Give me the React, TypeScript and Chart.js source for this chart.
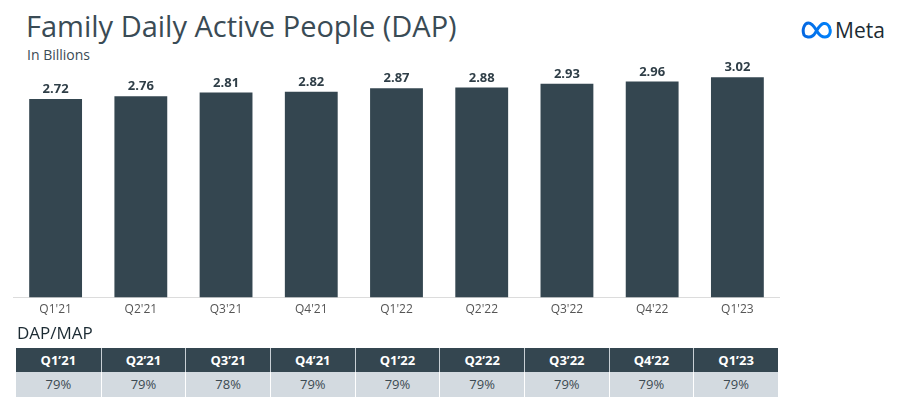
import React, { useEffect, useRef } from "react";
import { Chart, registerables } from "chart.js";

Chart.register(...registerables);

const quarters = ["Q1'21", "Q2'21", "Q3'21", "Q4'21", "Q1'22", "Q2'22", "Q3'22", "Q4'22", "Q1'23"];
const dapValues = [2.72, 2.76, 2.81, 2.82, 2.87, 2.88, 2.93, 2.96, 3.02];
const tableHeaders = ["Q1’21", "Q2’21", "Q3’21", "Q4’21", "Q1’22", "Q2’22", "Q3’22", "Q4’22", "Q1’23"];
const dapMapRatios = ["79%", "79%", "78%", "79%", "79%", "79%", "79%", "79%", "79%"];

const FONT = "'Open Sans', 'Noto Sans', sans-serif";
const BAR = "#344650";

const valueLabels = {
  id: "valueLabels",
  afterDatasetsDraw(chart: any) {
    const ctx = chart.ctx;
    const meta = chart.getDatasetMeta(0);
    ctx.save();
    ctx.font = `bold 13px ${FONT}`;
    ctx.fillStyle = "#2f3e47";
    ctx.textAlign = "center";
    ctx.textBaseline = "bottom";
    meta.data.forEach((el: any, i: number) => {
      ctx.fillText(dapValues[i].toFixed(2), el.x, el.y - 3);
    });
    ctx.restore();
  },
};

export default function App() {
  const ref = useRef<HTMLCanvasElement>(null);
  useEffect(() => {
    document.body.style.margin = "0";
    const chart = new Chart(ref.current!, {
      type: "bar",
      data: {
        labels: quarters,
        datasets: [
          {
            data: dapValues,
            backgroundColor: BAR,
            categoryPercentage: 0.62,
            barPercentage: 1,
          },
        ],
      },
      options: {
        animation: false,
        responsive: false,
        maintainAspectRatio: false,
        layout: { padding: { top: 10, left: 0, right: 0, bottom: 0 } },
        plugins: { legend: { display: false }, tooltip: { enabled: false } },
        scales: {
          x: {
            grid: { display: false, drawTicks: false },
            border: { display: true, color: "#dcdcdc", width: 1 },
            ticks: { color: "#555", font: { family: FONT, size: 12 }, padding: 5 },
          },
          y: { display: false, min: 0, max: 3.16 },
        },
      },
      plugins: [valueLabels],
    });
    return () => chart.destroy();
  }, []);

  const colW = 762 / 9;
  return (
    <div style={{ position: "relative", width: 902, height: 410, background: "#fff", fontFamily: FONT, overflow: "hidden" }}>
      <div style={{ position: "absolute", left: 26, top: 6, fontSize: 29, color: "#3a4b55", fontWeight: 400, whiteSpace: "nowrap" }}>
        Family Daily Active People (DAP)
      </div>
      <div style={{ position: "absolute", left: 27, top: 45, fontSize: 14, color: "#3a4b55" }}>In Billions</div>
      <div style={{ position: "absolute", left: 801, top: 16, display: "flex", alignItems: "center" }}>
        <svg width="32" height="18" viewBox="0 0 32 18">
          <defs>
            <linearGradient id="mg" x1="0" y1="0" x2="1" y2="0">
              <stop offset="0" stopColor="#0668E1" />
              <stop offset="1" stopColor="#0082FB" />
            </linearGradient>
          </defs>
          <path
            d="M3 14 C1 9 3 2 7.5 2 C11.5 2 14 7 16.5 11 C18.5 14.5 21 16 24 16 C28 16 30 12 29 8 C28 3.5 25 2 22.5 2.5 C19 3.2 16.5 8 14.5 11.5 C12.5 15 10 16.5 7 16 C5 15.7 3.6 15 3 14 Z"
            fill="none"
            stroke="url(#mg)"
            strokeWidth="3"
          />
        </svg>
        <span style={{ fontSize: 21, color: "#1c2b33", marginLeft: 2, fontWeight: 500 }}>Meta</span>
      </div>
      <canvas ref={ref} width={767} height={265} style={{ position: "absolute", left: 13, top: 57, width: 767, height: 265 }} />
      <div style={{ position: "absolute", left: 17, top: 321, fontSize: 17, color: "#1c2b33" }}>DAP/MAP</div>
      <div style={{ position: "absolute", left: 16, top: 348, width: 762 }}>
        <div style={{ display: "flex" }}>
          {tableHeaders.map((h, i) => (
            <div
              key={h}
              style={{
                width: colW,
                height: 24,
                lineHeight: "24px",
                background: "#344650",
                color: "#fff",
                fontWeight: 700,
                fontSize: 13,
                textAlign: "center",
                borderLeft: i > 0 ? "1px solid #c8cfd4" : "none",
                boxSizing: "border-box",
              }}
            >
              {h}
            </div>
          ))}
        </div>
        <div style={{ display: "flex" }}>
          {dapMapRatios.map((v, i) => (
            <div
              key={i}
              style={{
                width: colW,
                height: 25,
                lineHeight: "25px",
                background: "#d3dae0",
                color: "#3c4a52",
                fontSize: 13,
                textAlign: "center",
                borderLeft: i > 0 ? "1px solid #fff" : "none",
                boxSizing: "border-box",
              }}
            >
              {v}
            </div>
          ))}
        </div>
      </div>
    </div>
  );
}
